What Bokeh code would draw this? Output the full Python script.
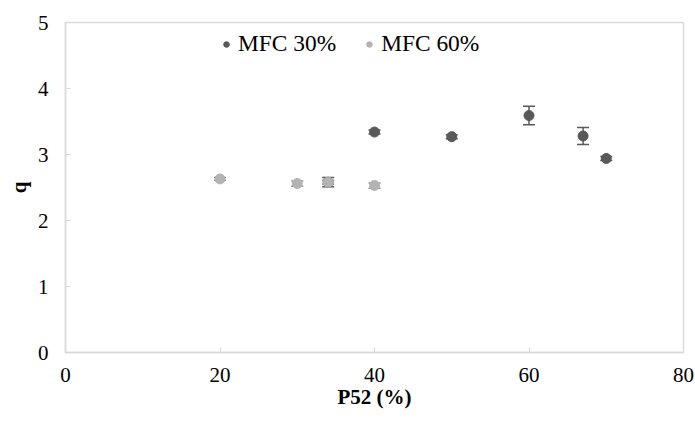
from bokeh.plotting import figure
from bokeh.models import ColumnDataSource, Whisker, TeeHead, Legend, LegendItem, Range1d, FixedTicker
from bokeh.embed import file_html
from bokeh.resources import INLINE

# Data
mfc30_x = [34, 40, 50, 60, 67, 70]
mfc30_y = [2.58, 3.34, 3.27, 3.59, 3.28, 2.94]
mfc30_err = [0.07, 0.03, 0.03, 0.14, 0.13, 0.03]

mfc60_x = [20, 30, 34, 40]
mfc60_y = [2.63, 2.56, 2.58, 2.53]
mfc60_err = [0.02, 0.04, 0.03, 0.04]

x_ticks = [0, 20, 40, 60, 80]
y_ticks = [0, 1, 2, 3, 4, 5]

DARK = "#595959"
LIGHT = "#B3B3B3"
FONT = "Liberation Serif"

p = figure(width=695, height=421, output_backend="svg", toolbar_location=None,
           x_range=Range1d(0, 80), y_range=Range1d(0, 5),
           min_border_left=65, min_border_right=12, min_border_top=22, min_border_bottom=69)

p.xgrid.visible = False
p.ygrid.visible = False
p.outline_line_color = "#D9D9D9"
p.outline_line_width = 1.5

def src(x, y, e):
    return ColumnDataSource(dict(x=x, y=y, lo=[a - b for a, b in zip(y, e)], hi=[a + b for a, b in zip(y, e)]))

s30 = src(mfc30_x, mfc30_y, mfc30_err)
s60 = src(mfc60_x, mfc60_y, mfc60_err)

def add_whisker(s, color):
    w = Whisker(base="x", upper="hi", lower="lo", source=s, line_color=color, line_width=1.5,
                upper_head=TeeHead(size=12, line_color=color, line_width=1.5),
                lower_head=TeeHead(size=12, line_color=color, line_width=1.5))
    p.add_layout(w)

add_whisker(s30, DARK)
r30 = p.scatter("x", "y", source=s30, size=10, fill_color=DARK, line_color=DARK)
add_whisker(s60, "#8C8C8C")
r60 = p.scatter("x", "y", source=s60, size=10, fill_color=LIGHT, line_color=LIGHT)

for ax in (p.xaxis[0], p.yaxis[0]):
    ax.axis_line_color = "#D9D9D9"
    ax.axis_line_width = 1.5
    ax.major_tick_in = 5
    ax.major_tick_out = 0
    ax.major_tick_line_color = "#D9D9D9"
    ax.minor_tick_line_color = None
    ax.major_label_text_font = FONT
    ax.major_label_text_font_size = "21px"
    ax.major_label_text_color = "black"
    ax.axis_label_text_font = FONT
    ax.axis_label_text_font_style = "bold"
    ax.axis_label_text_font_size = "21px"
    ax.axis_label_text_color = "black"

p.xaxis.ticker = FixedTicker(ticks=x_ticks)
p.yaxis.ticker = FixedTicker(ticks=y_ticks)
p.xaxis.axis_label = "P52 (%)"
p.yaxis.axis_label = "q"
p.xaxis.major_label_standoff = 15
p.yaxis.major_label_standoff = 17
p.xaxis.axis_label_standoff = 0
p.yaxis.axis_label_standoff = 4

legend = Legend(items=[LegendItem(label="MFC 30%", renderers=[r30]),
                       LegendItem(label="MFC 60%", renderers=[r60])],
                orientation="horizontal", location=(154, 295),
                border_line_alpha=0, background_fill_alpha=0,
                label_text_font=FONT, label_text_font_size="23.4px",
                label_text_color="black",
                glyph_width=14, glyph_height=20, label_standoff=5,
                spacing=26, padding=0, margin=0)
p.add_layout(legend)

open("out.html", "w").write(file_html(p, INLINE))
